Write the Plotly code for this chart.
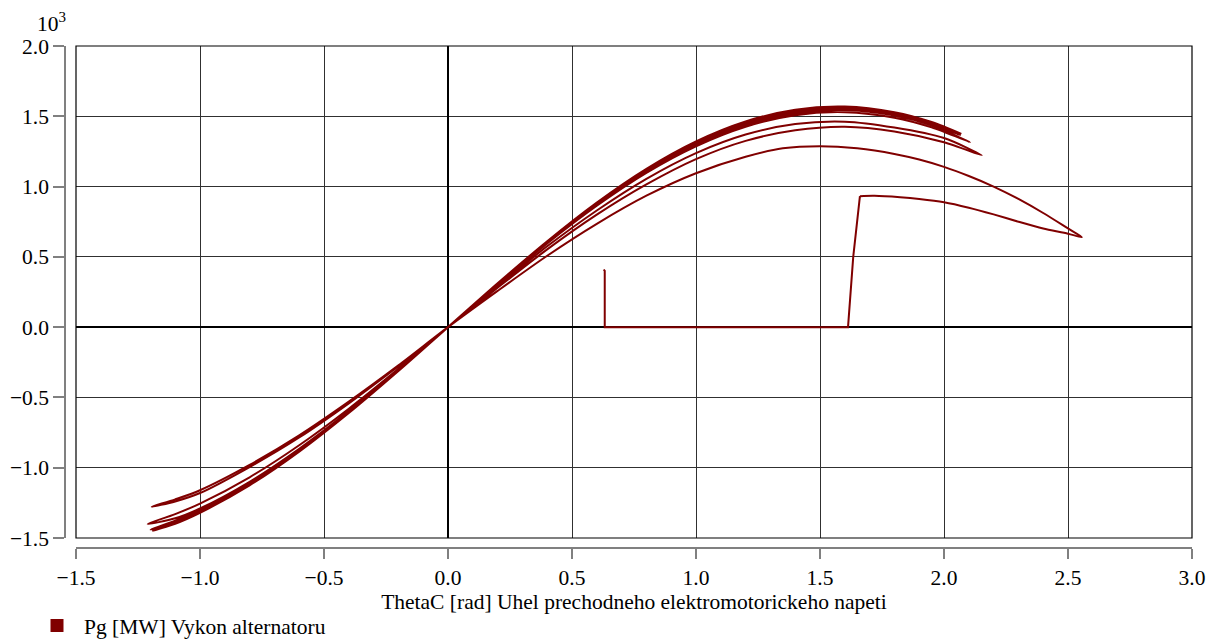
import plotly.graph_objects as go

# ---- data (theta in rad, Pg in MW) ----
# pre-fault point, fault-on (Pg = 0) and fault clearing
fault_theta = [0.628, 0.632, 0.632, 0.90, 1.20, 1.50, 1.613, 1.634, 1.661]
fault_pg = [410, 400, 0, 0, 0, 0, 0, 500, 932]

# first post-fault forward swing
swA_theta = [1.661, 1.72, 1.823, 1.9, 2.0, 2.1, 2.2, 2.3, 2.4, 2.5, 2.556]
swA_pg = [932, 934, 924, 912, 889, 850, 802, 750, 702, 665, 640]

# first return swing
swB_theta = [2.5, 2.4, 2.3, 2.2, 2.1, 2.0, 1.9, 1.8, 1.65, 1.5, 1.35, 1.2, 1.0, 0.8, 0.6,
             0.4, 0.2, 0.0, -0.2, -0.4, -0.6, -0.8, -1.0, -1.1, -1.195]
swB_pg = [702, 812, 912, 1000, 1075, 1140, 1192, 1232, 1272, 1287, 1272, 1212, 1095, 935, 735,
          508, 258, 0, -272, -530, -770, -980, -1160, -1225, -1278]

# second forward swing
swC_theta = [-1.1, -1.0, -0.8, -0.6, -0.4, -0.2, 0.0, 0.2, 0.4, 0.6, 0.8, 1.0, 1.2, 1.4, 1.6,
             1.8, 2.0, 2.152]
swC_pg = [-1240, -1180, -995, -785, -542, -278, 0, 280, 553, 800, 1015, 1195, 1325, 1400, 1425,
          1392, 1315, 1223]

# second return swing
swD_theta = [2.0, 1.8, 1.6, 1.4, 1.2, 1.0, 0.8, 0.6, 0.4, 0.2, 0.0, -0.2, -0.4, -0.6, -0.8,
             -1.0, -1.1, -1.211]
swD_pg = [1345, 1420, 1462, 1445, 1370, 1238, 1055, 830, 575, 292, 0, -296, -580, -840, -1068,
          -1255, -1330, -1400]

# third forward swing
swE_theta = [-1.1, -1.0, -0.8, -0.6, -0.4, -0.2, 0.0, 0.2, 0.4, 0.6, 0.8, 1.0, 1.2, 1.4, 1.6,
             1.8, 1.95, 2.105]
swE_pg = [-1360, -1290, -1100, -865, -597, -304, 0, 304, 596, 864, 1098, 1287, 1426, 1508, 1529,
          1490, 1421, 1316]

# third return swing
swF_theta = [1.95, 1.8, 1.6, 1.4, 1.2, 1.0, 0.8, 0.6, 0.4, 0.2, 0.0, -0.2, -0.4, -0.6, -0.8,
             -1.0, -1.1, -1.199]
swF_pg = [1435, 1505, 1544, 1522, 1440, 1300, 1108, 872, 602, 307, 0, -307, -602, -872, -1108,
          -1300, -1377, -1440]

# fourth forward swing
swG_theta = [-1.1, -1.0, -0.8, -0.6, -0.4, -0.2, 0.0, 0.2, 0.4, 0.6, 0.8, 1.0, 1.2, 1.4, 1.6,
             1.8, 1.95, 2.065]
swG_pg = [-1386, -1309, -1116, -878, -606, -309, 0, 309, 606, 878, 1116, 1309, 1449, 1532, 1554,
          1514, 1445, 1366]

# fourth return swing
swH_theta = [1.95, 1.8, 1.6, 1.4, 1.2, 1.0, 0.8, 0.6, 0.4, 0.2, 0.0, -0.2, -0.4, -0.6, -0.8,
             -1.0, -1.1, -1.19]
swH_pg = [1454, 1524, 1564, 1542, 1459, 1317, 1123, 884, 609, 311, 0, -311, -609, -884, -1123,
          -1317, -1395, -1448]

# fifth forward swing
swI_theta = [-1.1, -1.0, -0.8, -0.6, -0.4, -0.2, 0.0, 0.2, 0.4, 0.6, 0.8, 1.0, 1.2, 1.4, 1.6,
             1.8, 1.95, 2.07]
swI_pg = [-1399, -1321, -1126, -886, -611, -312, 0, 312, 611, 886, 1126, 1321, 1463, 1547, 1569,
          1529, 1459, 1375]

x_ticks = [-1.5, -1.0, -0.5, 0.0, 0.5, 1.0, 1.5, 2.0, 2.5, 3.0]
y_ticks = [-1.5, -1.0, -0.5, 0.0, 0.5, 1.0, 1.5, 2.0]
series_name = "Pg [MW] Vykon alternatoru"
x_title = "ThetaC [rad] Uhel prechodneho elektromotorickeho napeti"

# ---- build ----
swing_theta = swA_theta + swB_theta + swC_theta + swD_theta + swE_theta + swF_theta + swG_theta + swH_theta + swI_theta
swing_pg = swA_pg + swB_pg + swC_pg + swD_pg + swE_pg + swF_pg + swG_pg + swH_pg + swI_pg

SCALE = 1000.0
COLOR = "#800000"
FONT = "Liberation Serif, Times New Roman, serif"
FS = 21.5

fig = go.Figure()
fig.add_trace(go.Scatter(x=fault_theta, y=[v / SCALE for v in fault_pg], mode="lines",
                         line=dict(color=COLOR, width=2), showlegend=False, hoverinfo="skip"))
fig.add_trace(go.Scatter(x=swing_theta, y=[v / SCALE for v in swing_pg], mode="lines",
                         line=dict(color=COLOR, width=2, shape="spline", smoothing=0.8),
                         showlegend=False, hoverinfo="skip"))
fig.add_trace(go.Scatter(x=[None], y=[None], mode="markers", name=series_name,
                         marker=dict(symbol="square", size=13, color=COLOR)))

W, H = 1218, 641
ml, mr, mt, mb = 65, 26, 46, 93
pw = W - ml - mr
ph = H - mt - mb

fig.update_layout(
    width=W, height=H, autosize=False,
    margin=dict(l=ml, r=mr, t=mt, b=mb, pad=0, autoexpand=False),
    paper_bgcolor="white", plot_bgcolor="white",
    font=dict(family=FONT, size=FS, color="black"),
    showlegend=True,
    legend=dict(orientation="h", x=-35 / pw, xanchor="left", y=-57 / ph, yanchor="top",
                font=dict(family=FONT, size=FS, color="black"), bgcolor="rgba(0,0,0,0)",
                itemwidth=44),
    xaxis=dict(range=[-1.5, 3.0], tickvals=x_ticks, tickformat=".1f",
               domain=[11 / pw, 1], anchor="free", position=0, automargin=False,
               showline=True, linecolor="#808080", linewidth=1.5,
               ticks="outside", ticklen=10, tickcolor="#808080", tickwidth=1.5,
               showgrid=True, gridcolor="#303030", gridwidth=1,
               zeroline=True, zerolinecolor="black", zerolinewidth=1.5,
               tickfont=dict(family=FONT, size=FS),
               title=dict(text=x_title, font=dict(family=FONT, size=FS), standoff=0)),
    yaxis=dict(range=[-1.5, 2.0], tickvals=y_ticks, tickformat=".1f",
               domain=[10 / ph, 1], anchor="free", position=0, automargin=False,
               showline=True, linecolor="#808080", linewidth=1.5,
               ticks="outside", ticklen=11, tickcolor="#808080", tickwidth=1.5,
               showgrid=True, gridcolor="#303030", gridwidth=1,
               zeroline=True, zerolinecolor="black", zerolinewidth=1.5,
               tickfont=dict(family=FONT, size=FS)),
    shapes=[dict(type="rect", xref="x domain", yref="y domain", x0=0, x1=1, y0=0, y1=1,
                 line=dict(color="black", width=1.2), fillcolor="rgba(0,0,0,0)", layer="above")],
    annotations=[dict(text="10<sup>3</sup>", xref="paper", yref="paper",
                      x=-14 / pw, y=1 + 24 / ph, xanchor="center", yanchor="middle",
                      showarrow=False, font=dict(family=FONT, size=FS))],
)

fig.write_html("out.html", config={"displayModeBar": False})
